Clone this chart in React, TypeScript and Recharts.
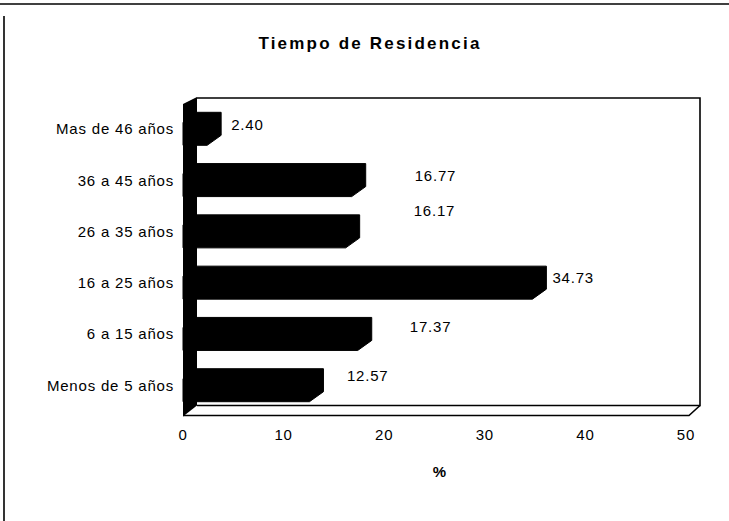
import React from 'react';
import { BarChart, Bar, XAxis, YAxis, LabelList } from 'recharts';

// ---- data ----
const categories = [
  'Mas de 46 años',
  '36 a 45 años',
  '26 a 35 años',
  '16 a 25 años',
  '6 a 15 años',
  'Menos de 5 años',
];
const values = [2.4, 16.77, 16.17, 34.73, 17.37, 12.57];
const xTicks = [0, 10, 20, 30, 40, 50];
const title = 'Tiempo de Residencia';
const xTitle = '%';

// ---- layout / style (not data) ----
const W = 729;
const H = 521;
const PLOT_LEFT = 183;
const PLOT_RIGHT = 686;
const PLOT_TOP = 103.3;
const PLOT_BOTTOM = 411;
const X_AXIS_H = 30;
const DX = 14; // 3D depth offset x
const DY = 10; // 3D depth offset y
const WALL_TOP = 98;
const FLOOR_FRONT = 415.5;
const FONT = '"Liberation Sans", Arial, Helvetica, sans-serif';
// manual data label nudges (gap after bar end, vertical shift from bar center)
const LABEL_NUDGE = [
  [10, -4],
  [49, -4.5],
  [54, -21],
  [6, -5],
  [38, -7],
  [23.5, -10],
];

const data = categories.map((name, i) => ({ name, value: values[i] }));

const Bar3D = (props: any) => {
  const { x, y, width, height } = props;
  if (width == null || height == null) return null;
  const pts = [
    [x, y + DY],
    [x + DX, y],
    [x + width + DX, y],
    [x + width + DX, y + height - DY],
    [x + width, y + height],
    [x, y + height],
  ]
    .map((p) => p.join(','))
    .join(' ');
  return <polygon points={pts} fill="#000" stroke="#000" strokeWidth={1} />;
};

const renderLabel = (props: any) => {
  const { x, y, width, height, value } = props;
  let index = props.index;
  if (index == null) index = values.indexOf(value);
  const nudge = LABEL_NUDGE[index] || [8, 0];
  const tx = x + width + DX + nudge[0];
  const cy = y + height / 2 + nudge[1];
  return (
    <text
      x={tx}
      y={cy + 5.3}
      fontFamily={FONT}
      fontSize={15}
      letterSpacing={0.8}
      fill="#000"
    >
      {Number(value).toFixed(2)}
    </text>
  );
};

export default function App() {
  const wallRight = PLOT_RIGHT + DX;
  const wallLeft = PLOT_LEFT + DX;
  const floorBack = FLOOR_FRONT - DY;
  return (
    <div
      style={{
        position: 'absolute',
        left: 0,
        top: 0,
        width: W,
        height: H,
        background: '#fff',
        overflow: 'hidden',
      }}
    >
      <svg
        width={W}
        height={H}
        style={{ position: 'absolute', left: 0, top: 0 }}
      >
        {/* outer frame */}
        <line x1={0} y1={4} x2={W} y2={4} stroke="#000" strokeWidth={1.6} />
        <line x1={4} y1={16} x2={4} y2={H} stroke="#000" strokeWidth={1.6} />
        {/* title */}
        <text
          x={370}
          y={49}
          textAnchor="middle"
          fontFamily={FONT}
          fontSize={17}
          fontWeight="bold"
          letterSpacing={2.2}
          fill="#000"
        >
          {title}
        </text>
        {/* back wall */}
        <polyline
          points={`${wallLeft},${WALL_TOP} ${wallRight},${WALL_TOP} ${wallRight},${floorBack} ${wallLeft},${floorBack}`}
          fill="none"
          stroke="#000"
          strokeWidth={1.6}
        />
        {/* floor */}
        <polyline
          points={`${PLOT_LEFT},${FLOOR_FRONT} ${PLOT_RIGHT + 3},${FLOOR_FRONT} ${wallRight},${floorBack}`}
          fill="none"
          stroke="#000"
          strokeWidth={1.6}
        />
        {/* side wall */}
        <polygon
          points={`${PLOT_LEFT},${WALL_TOP + 6} ${wallLeft},${WALL_TOP - 1} ${wallLeft},${floorBack} ${PLOT_LEFT},${FLOOR_FRONT + 1}`}
          fill="#000"
        />
        {/* x axis title */}
        <text
          x={(PLOT_LEFT + PLOT_RIGHT) / 2 + 5}
          y={477}
          textAnchor="middle"
          fontFamily={FONT}
          fontSize={15}
          fontWeight="bold"
          fill="#000"
        >
          {xTitle}
        </text>
      </svg>
      <div style={{ position: 'absolute', left: 0, top: 0 }}>
        <BarChart
          width={W}
          height={H}
          data={data}
          layout="vertical"
          margin={{
            top: PLOT_TOP,
            right: W - PLOT_RIGHT,
            bottom: H - PLOT_BOTTOM - X_AXIS_H,
            left: 0,
          }}
          barCategoryGap={0}
        >
          <XAxis
            type="number"
            domain={[0, 50]}
            ticks={xTicks}
            axisLine={false}
            tickLine={false}
            tickSize={0}
            tickMargin={18}
            height={X_AXIS_H}
            interval={0}
            tick={{ fill: '#000', fontSize: 15, fontFamily: FONT, letterSpacing: 0.8 }}
          />
          <YAxis
            type="category"
            dataKey="name"
            width={PLOT_LEFT}
            axisLine={false}
            tickLine={false}
            tickSize={0}
            tickMargin={9}
            interval={0}
            tick={{ fill: '#000', fontSize: 15, fontFamily: FONT, letterSpacing: 0.8 }}
          />
          <Bar
            dataKey="value"
            barSize={33}
            shape={Bar3D}
            isAnimationActive={false}
          >
            <LabelList dataKey="value" content={renderLabel} />
          </Bar>
        </BarChart>
      </div>
    </div>
  );
}
